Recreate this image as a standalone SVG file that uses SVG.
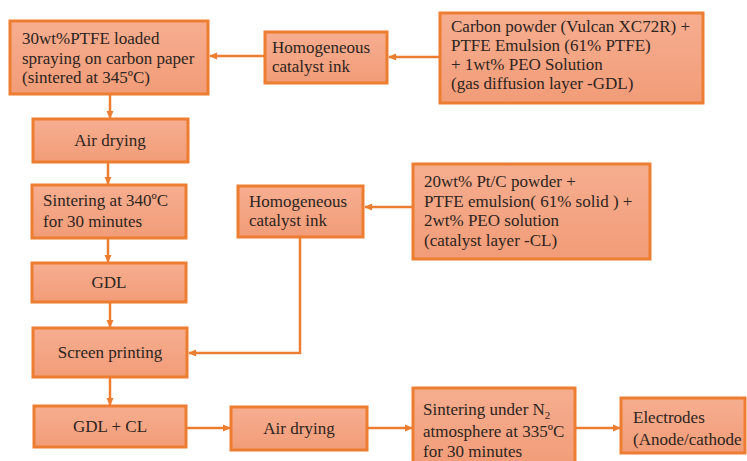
<svg xmlns="http://www.w3.org/2000/svg" width="747" height="461" viewBox="0 0 747 461">
<style>
.box{fill:url(#g);stroke:#ED7D31;stroke-width:3}
.t{font-family:'Liberation Serif','Times New Roman','DejaVu Serif',serif;font-size:17px;fill:#2e2420}
.c{text-anchor:middle}
.ln{fill:none;stroke:#ED7D31;stroke-width:2.5}
</style>
<defs>
<linearGradient id="g" x1="0" y1="0" x2="0" y2="1">
<stop offset="0" stop-color="#F6AE90"/>
<stop offset="1" stop-color="#F29C78"/>
</linearGradient>
<marker id="a" markerWidth="8" markerHeight="8" refX="7" refY="4" orient="auto" markerUnits="userSpaceOnUse">
<path d="M0,0.5 L8,4 L0,7.5 Z" fill="#ED7D31"/>
</marker>
</defs>
<rect width="747" height="461" fill="#fff"/>
<g id="connectors">
<line class="ln" x1="440" y1="57" x2="389" y2="57" marker-end="url(#a)"/>
<line class="ln" x1="265" y1="56" x2="210" y2="56" marker-end="url(#a)"/>
<line class="ln" x1="110" y1="95" x2="110" y2="118" marker-end="url(#a)"/>
<line class="ln" x1="108" y1="163" x2="108" y2="184" marker-end="url(#a)"/>
<line class="ln" x1="108" y1="239" x2="108" y2="262" marker-end="url(#a)"/>
<line class="ln" x1="110" y1="303" x2="110" y2="327" marker-end="url(#a)"/>
<line class="ln" x1="110" y1="378" x2="110" y2="405" marker-end="url(#a)"/>
<line class="ln" x1="413" y1="207" x2="365" y2="207" marker-end="url(#a)"/>
<polyline class="ln" points="300,238 300,353 189,353" marker-end="url(#a)"/>
<line class="ln" x1="187" y1="428" x2="230" y2="428" marker-end="url(#a)"/>
<line class="ln" x1="367" y1="428" x2="412" y2="428" marker-end="url(#a)"/>
<line class="ln" x1="576" y1="428" x2="620" y2="428" marker-end="url(#a)"/>
</g>
<g id="n1"><rect class="box" x="10" y="21" width="198" height="73"/>
<text class="t" x="22" y="44">30wt%PTFE loaded</text>
<text class="t" x="22" y="64">spraying on carbon paper</text>
<text class="t" x="22" y="83">(sintered at 345ºC)</text></g>
<g id="n2"><rect class="box" x="265" y="32" width="122" height="51"/>
<text class="t" x="272" y="53">Homogeneous</text>
<text class="t" x="272" y="72">catalyst ink</text></g>
<g id="n3"><rect class="box" x="440" y="13" width="263" height="90"/>
<text class="t" x="451" y="32">Carbon powder (Vulcan XC72R) +</text>
<text class="t" x="451" y="51">PTFE Emulsion (61% PTFE)</text>
<text class="t" x="451" y="70">+ 1wt% PEO Solution</text>
<text class="t" x="451" y="89">(gas diffusion layer -GDL)</text></g>
<g id="n4"><rect class="box" x="33" y="119" width="155" height="43"/>
<text class="t c" x="110" y="146">Air drying</text></g>
<g id="n5"><rect class="box" x="32" y="185" width="154" height="53"/>
<text class="t" x="43" y="206">Sintering at 340ºC</text>
<text class="t" x="43" y="227">for 30 minutes</text></g>
<g id="n6"><rect class="box" x="32" y="263" width="154" height="39"/>
<text class="t c" x="109" y="288">GDL</text></g>
<g id="n7"><rect class="box" x="238" y="186" width="125" height="51"/>
<text class="t" x="249" y="207">Homogeneous</text>
<text class="t" x="249" y="226">catalyst ink</text></g>
<g id="n8"><rect class="box" x="413" y="164" width="237" height="95"/>
<text class="t" x="424" y="187">20wt% Pt/C powder +</text>
<text class="t" x="424" y="207">PTFE emulsion( 61% solid ) +</text>
<text class="t" x="424" y="226">2wt% PEO solution</text>
<text class="t" x="424" y="246">(catalyst layer -CL)</text></g>
<g id="n9"><rect class="box" x="33" y="328" width="154" height="49"/>
<text class="t c" x="110" y="358">Screen printing</text></g>
<g id="n10"><rect class="box" x="34" y="406" width="152" height="41"/>
<text class="t c" x="110" y="432">GDL + CL</text></g>
<g id="n11"><rect class="box" x="231" y="407" width="136" height="43"/>
<text class="t c" x="299" y="434">Air drying</text></g>
<g id="n12"><rect class="box" x="413" y="388" width="162" height="80"/>
<text class="t" x="423" y="415">Sintering under N<tspan font-size="11" dy="4">2</tspan></text>
<text class="t" x="423" y="437">atmosphere at 335ºC</text>
<text class="t" x="423" y="457">for 30 minutes</text></g>
<g id="n13"><rect class="box" x="621" y="398" width="124" height="55"/>
<text class="t" x="633" y="423">Electrodes</text>
<text class="t" x="633" y="445">(Anode/cathode</text></g>
</svg>
